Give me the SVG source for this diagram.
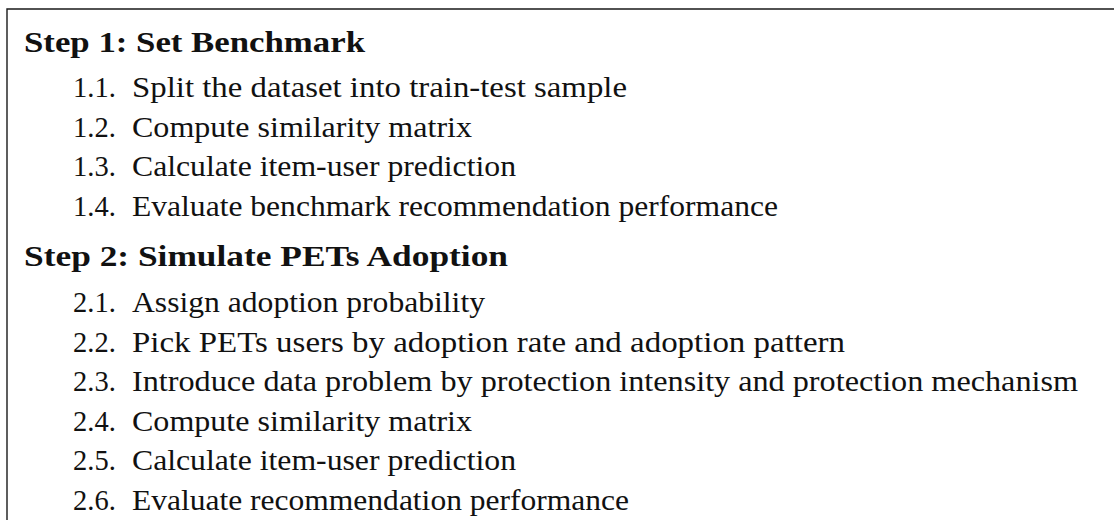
<svg xmlns="http://www.w3.org/2000/svg" width="1114" height="520" viewBox="0 0 1114 520">
<style>
text { font-family: "Liberation Serif", "Times New Roman", serif; font-size: 28.5px; fill: #111; }
.h { font-weight: bold; }
.frame { fill: none; stroke: #1a1a1a; stroke-width: 1.4; }
</style>
<rect width="1114" height="520" fill="#fff"/>
<path class="frame" d="M7,530 V9 H1120"/>
<g id="step1">
<text class="h" x="24" y="52" textLength="341" lengthAdjust="spacingAndGlyphs">Step 1: Set Benchmark</text>
<text x="73" y="97">1.1.</text><text x="132" y="97" textLength="495" lengthAdjust="spacingAndGlyphs">Split the dataset into train-test sample</text>
<text x="73" y="136.5">1.2.</text><text x="132" y="136.5" textLength="340" lengthAdjust="spacingAndGlyphs">Compute similarity matrix</text>
<text x="73" y="176">1.3.</text><text x="132" y="176" textLength="384" lengthAdjust="spacingAndGlyphs">Calculate item-user prediction</text>
<text x="73" y="215.5">1.4.</text><text x="132" y="215.5" textLength="646" lengthAdjust="spacingAndGlyphs">Evaluate benchmark recommendation performance</text>
</g>
<g id="step2">
<text class="h" x="24" y="265.5" textLength="484" lengthAdjust="spacingAndGlyphs">Step 2: Simulate PETs Adoption</text>
<text x="73" y="312">2.1.</text><text x="132" y="312" textLength="353" lengthAdjust="spacingAndGlyphs">Assign adoption probability</text>
<text x="73" y="351.6">2.2.</text><text x="132" y="351.6" textLength="713" lengthAdjust="spacingAndGlyphs">Pick PETs users by adoption rate and adoption pattern</text>
<text x="73" y="391.2">2.3.</text><text x="132" y="391.2" textLength="946" lengthAdjust="spacingAndGlyphs">Introduce data problem by protection intensity and protection mechanism</text>
<text x="73" y="430.8">2.4.</text><text x="132" y="430.8" textLength="340" lengthAdjust="spacingAndGlyphs">Compute similarity matrix</text>
<text x="73" y="470.4">2.5.</text><text x="132" y="470.4" textLength="384" lengthAdjust="spacingAndGlyphs">Calculate item-user prediction</text>
<text x="73" y="510">2.6.</text><text x="132" y="510" textLength="497" lengthAdjust="spacingAndGlyphs">Evaluate recommendation performance</text>
</g>
</svg>
